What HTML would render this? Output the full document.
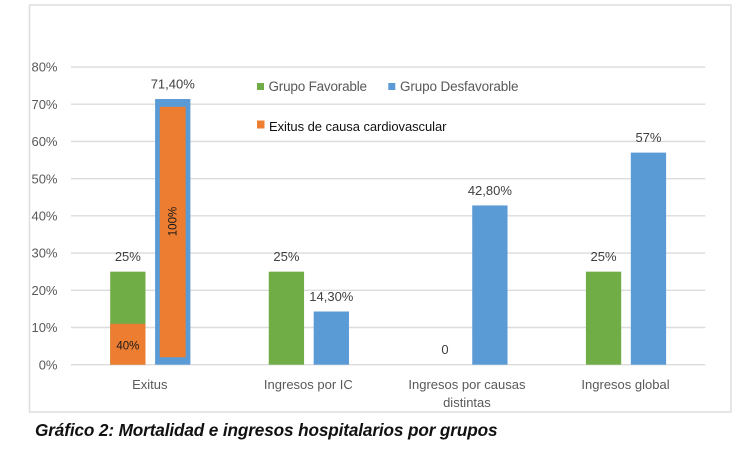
<!DOCTYPE html>
<html lang="es">
<head>
<meta charset="utf-8">
<title>Gráfico 2</title>
<style>
  html, body { margin: 0; padding: 0; background: #fff; width: 750px; height: 456px; overflow: hidden; }
  svg { display: block; font-family: "Liberation Sans", sans-serif; }
</style>
</head>
<body>
<svg id="chart" xmlns="http://www.w3.org/2000/svg" width="750" height="456" viewBox="0 0 750 456">
  <rect x="29.5" y="5" width="701.5" height="407" fill="#fff" stroke="#e0e0e0" stroke-width="1.6"/>
  <g id="grid"></g>
  <g id="ticks"></g>
  <g id="bars"></g>
  <g id="labels"></g>
  <g id="cats"></g>
  <g>
    <rect x="257" y="83" width="7" height="7" fill="#70ad47"/>
    <text x="268.5" y="91" font-size="13.5" fill="#595959" textLength="98.5">Grupo Favorable</text>
    <rect x="388.3" y="83" width="7" height="7" fill="#5b9bd5"/>
    <text x="400" y="91" font-size="13.5" fill="#595959" textLength="118.5">Grupo Desfavorable</text>
    <rect x="257" y="120.5" width="7.5" height="8" fill="#ed7d31"/>
    <text x="269" y="131" font-size="13" fill="#111" textLength="177.5">Exitus de causa cardiovascular</text>
  </g>
  <text x="35" y="436" font-size="17.2" font-weight="bold" font-style="italic" fill="#111" textLength="462.5">Gráfico 2: Mortalidad e ingresos hospitalarios por grupos</text>
</svg>
<script>
const categories = [["Exitus"], ["Ingresos por IC"], ["Ingresos por causas", "distintas"], ["Ingresos global"]];
const favorable = [25, 25, 0, 25];
const desfavorable = [71.4, 14.3, 42.8, 57];
const favorableLabels = ["25%", "25%", "0", "25%"];
const desfavorableLabels = ["71,40%", "14,30%", "42,80%", "57%"];
const yTicks = [0, 10, 20, 30, 40, 50, 60, 70, 80];
const cardioFavorable = 11;
const cardioFavorableLabel = "40%";
const cardioDesfavorableLow = 2;
const cardioDesfavorableHigh = 69.3;
const cardioDesfavorableLabel = "100%";

const NS = "http://www.w3.org/2000/svg";
const plotLeft = 71, plotRight = 705.3, y0 = 364.7, yPerUnit = 3.721;
const barW = 35.3, barGap = 9.6, inset = 4.7;
const bandW = (plotRight - plotLeft) / categories.length;
const yScale = v => y0 - v * yPerUnit;
const bandCenter = i => plotLeft + bandW * (i + 0.5);
const favX = i => bandCenter(i) - barGap / 2 - barW;
const desX = i => bandCenter(i) + barGap / 2;

function make(parentId, tag, props, content) {
  const el = document.createElementNS(NS, tag);
  for (const k in props) el.setAttribute(k, props[k]);
  if (content !== undefined) el.textContent = content;
  document.getElementById(parentId).appendChild(el);
  return el;
}

yTicks.forEach(t => {
  const line = make("grid", "line", { x1: plotLeft, x2: plotRight, y1: yScale(t), y2: yScale(t), stroke: "#dcdcdc", "stroke-width": 1.4 });
  
  
  const label = make("ticks", "text", { x: 57.5, y: yScale(t) + 4.6, "text-anchor": "end", "font-size": 13, fill: "#595959" }, t + "%");
  
  
});

categories.forEach((lines, i) => {
  lines.forEach((txt, j) => {
    const c = make("cats", "text", { x: bandCenter(i) - 0.5, y: 389 + j * 18, "text-anchor": "middle", "font-size": 13, fill: "#595959" }, txt);
    
    
  });

  if (favorable[i] > 0) {
    const g = make("bars", "rect", { x: favX(i), y: yScale(favorable[i]), width: barW, height: y0 - yScale(favorable[i]), fill: "#70ad47" });
    
    
  }
  const b = make("bars", "rect", { x: desX(i), y: yScale(desfavorable[i]), width: barW, height: y0 - yScale(desfavorable[i]), fill: "#5b9bd5" });
  
  

  const fl = make("labels", "text", { x: favX(i) + barW / 2, y: yScale(favorable[i]) - 10.7, "text-anchor": "middle", "font-size": 13, fill: "#404040" }, favorableLabels[i]);
  
  
  const dl = make("labels", "text", { x: desX(i) + barW / 2, y: yScale(desfavorable[i]) - 10.5, "text-anchor": "middle", "font-size": 13, fill: "#404040" }, desfavorableLabels[i]);
  
  
});

const o1 = make("bars", "rect", { x: favX(0), y: yScale(cardioFavorable), width: barW, height: y0 - yScale(cardioFavorable), fill: "#ed7d31" });


const o2 = make("bars", "rect", { x: desX(0) + inset, y: yScale(cardioDesfavorableHigh), width: barW - 2 * inset, height: yScale(cardioDesfavorableLow) - yScale(cardioDesfavorableHigh), fill: "#ed7d31" });



const l1 = make("labels", "text", { x: favX(0) + barW / 2, y: 349.7, "text-anchor": "middle", "font-size": 11.5, fill: "#1a1a1a" }, cardioFavorableLabel);


const cx = desX(0) + barW / 2 + 4, cy = 221.5;
const l2 = make("labels", "text", { x: cx, y: cy, "text-anchor": "middle", "font-size": 11.5, fill: "#1a1a1a", transform: "rotate(-90 " + cx + " " + cy + ")" }, cardioDesfavorableLabel);


</script>
</body>
</html>
